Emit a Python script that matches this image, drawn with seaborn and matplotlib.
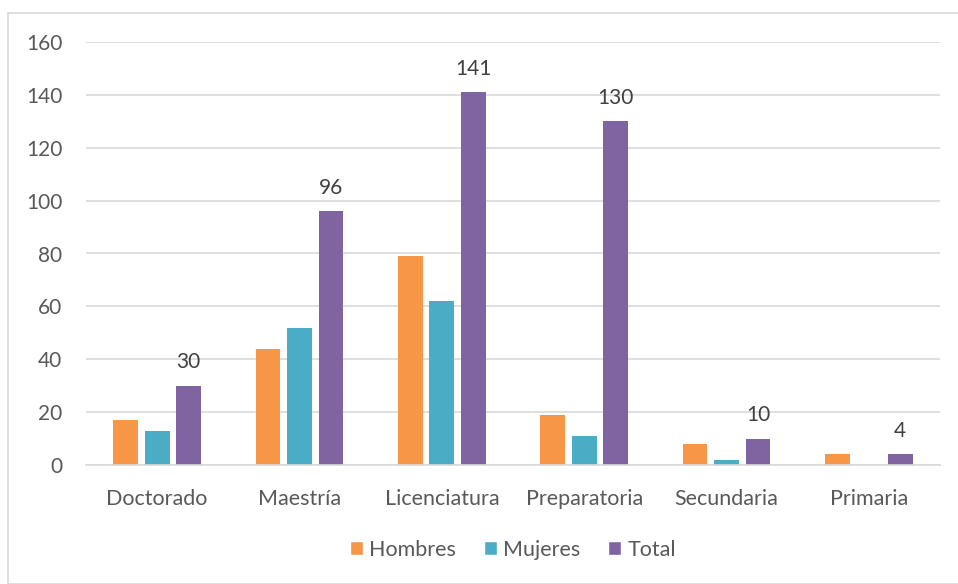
import matplotlib
matplotlib.use("Agg")
import matplotlib.pyplot as plt
from matplotlib.patches import Rectangle
import seaborn as sns
import pandas as pd

niveles = ["Doctorado", "Maestría", "Licenciatura", "Preparatoria", "Secundaria", "Primaria"]
hombres = [17, 44, 79, 19, 8, 4]
mujeres = [13, 52, 62, 11, 2, 0]
total = [30, 96, 141, 130, 10, 4]
series = ["Hombres", "Mujeres", "Total"]
colores = ["#F79646", "#4BACC6", "#8064A2"]

df = pd.DataFrame({
    "nivel": niveles * 3,
    "serie": [s for s in series for _ in niveles],
    "valor": hombres + mujeres + total,
})

sns.set_theme(style="white")
plt.rcParams["font.family"] = ["Lato", "DejaVu Sans"]

fig = plt.figure(figsize=(9.58, 5.84), dpi=100)
ax = fig.add_axes([86 / 958, 1 - 465 / 584, (940 - 86) / 958, (465 - 42) / 584])

sns.barplot(data=df, x="nivel", y="valor", hue="serie", order=niveles,
            hue_order=series, palette=colores, width=0.664, saturation=1,
            errorbar=None, ax=ax, legend=True)

# narrow each bar slightly so a small gap separates bars within a group
for p in ax.patches:
    w = p.get_width()
    if w <= 0 or w > 0.5:
        continue
    nw = w * 0.79
    p.set_x(p.get_x() + (w - nw) / 2)
    p.set_width(nw)
    p.set_edgecolor("none")

# value labels above the Total bars
for i, v in enumerate(total):
    off = 0.664 / 3
    ax.text(i + off, v + 5, str(v), ha="center", va="bottom",
            fontsize=15, color="#404040")

ax.set_ylim(0, 160)
ax.set_xlim(-0.5, len(niveles) - 0.5)
ax.set_yticks(range(0, 161, 20))
ax.yaxis.grid(True, color="#d9d9d9", linewidth=1.2)
ax.set_axisbelow(True)
for s in ["top", "right", "left"]:
    ax.spines[s].set_visible(False)
ax.spines["bottom"].set_color("#d9d9d9")
ax.spines["bottom"].set_linewidth(1.2)
ax.tick_params(axis="both", length=0, colors="#595959")
ax.tick_params(axis="x", pad=17, labelsize=15.5)
ax.tick_params(axis="y", pad=17, labelsize=15)
ax.set_xlabel("")
ax.set_ylabel("")

leg = ax.legend(loc="center", bbox_to_anchor=(0.5, -0.2), ncol=3, frameon=False,
                fontsize=15.5, handlelength=0.6, handleheight=0.6, handletextpad=0.3,
                columnspacing=1.3)
for t in leg.get_texts():
    t.set_color("#595959")

fig.patches.append(Rectangle((8 / 958, 0), 1, 1 - 13 / 584, transform=fig.transFigure,
                             fill=False, edgecolor="#d9d9d9", linewidth=1.2, zorder=0))

fig.savefig("out.png", dpi=100, facecolor="white")
